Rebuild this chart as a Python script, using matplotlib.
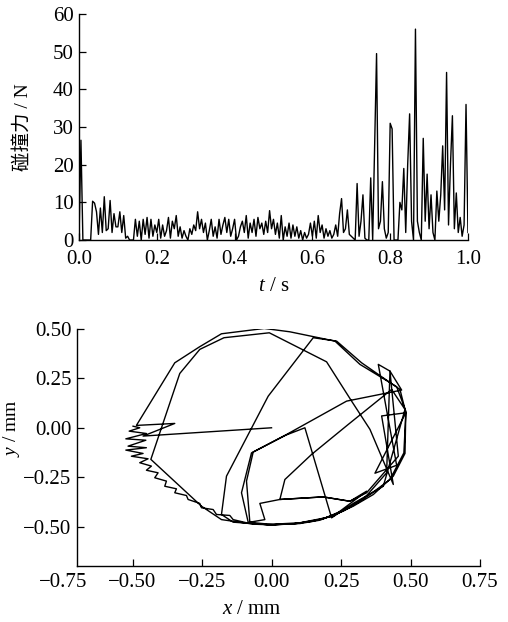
import numpy as np
import matplotlib
matplotlib.use('Agg')
import matplotlib.pyplot as plt

plt.rcParams['font.family'] = ['Liberation Serif', 'Noto Sans CJK SC']
plt.rcParams['mathtext.fontset'] = 'custom'
plt.rcParams['mathtext.rm'] = 'Liberation Serif'
plt.rcParams['mathtext.it'] = 'Liberation Serif:italic'

# collision force, sampled every 0.005 s
dt = 0.005
force = [
    0, 26.5, 0, 0, 0, 0, 0, 10.3, 9.8, 7.5, 1.5, 8.5, 2, 11.5, 2.5, 3, 10.5, 2, 7, 3.5,
    3.5, 7.5, 2, 6.5, 0.5, 1, 0, 0, 0, 5.5, 1, 5, 0, 5.5, 1.5, 6, 0.5, 5.5, 1, 4,
    2, 5.5, 0.5, 4, 1, 2.5, 6, 0.5, 5, 3, 6.5, 1, 3.5, 0.5, 2.5, 1, 0, 3, 1.5, 4,
    2.5, 7.5, 3, 5.5, 2, 4.5, 0, 2.5, 5.5, 1, 3.5, 0.5, 5.5, 1.5, 4, 6, 2, 5.5, 1, 3,
    5.5, 0, 1, 3.5, 5, 2, 6.5, 0.5, 4.5, 2, 5.5, 1, 6, 3, 4.5, 1.5, 5, 2, 7.8, 3,
    5.5, 1.5, 4.5, 0.5, 6.5, 0, 3.5, 1, 4.5, 0.5, 4, 1, 3.5, 0.5, 2.5, 0, 2, 0.5, 1.5, 4.5,
    1, 5, 0.5, 6.5, 2, 4, 0.5, 3, 1, 2.5, 0.5, 1.5, 4, 1, 7, 11, 2, 3, 8, 1.5,
    1, 0.5, 0, 15, 1, 5, 12, 0.5, 0, 0, 16.5, 0, 25, 49.5, 3, 5, 15.5, 3, 0.5, 2,
    31, 29.5, 0, 0, 0, 10, 8, 19, 2, 20, 33.5, 5, 0, 56, 5, 2, 0, 27, 5, 17.5,
    3, 12, 2, 0, 13, 5, 12, 25, 8, 44.5, 4, 20, 33, 3, 12.5, 2, 6, 1, 4, 36, 2,
]
t = np.arange(len(force)) * dt

# trajectory (mm)
traj_x = [
    0.000, -0.462, -0.348, -0.486, -0.348, -0.260, -0.180, -0.026, 0.066, 0.228,
    0.318, 0.450, 0.483, 0.480, 0.438, 0.366, 0.294, 0.222, 0.150, 0.078,
    0.006, -0.066, -0.180, -0.252, -0.434, -0.330, -0.258, -0.171, -0.008, 0.198,
    0.288, 0.354, 0.438, 0.396, 0.483, 0.372, 0.450, 0.384, 0.426, 0.468,
    0.270, 0.054, -0.072, -0.108, -0.084, 0.006, 0.102, 0.174, 0.258, 0.330,
    0.414, 0.426, 0.456, 0.342, 0.282, 0.186, 0.030, 0.048, 0.144, 0.276,
    0.432, 0.480, 0.402, 0.294, 0.216, 0.120, 0.052, -0.066, -0.090, -0.078,
    -0.024, -0.042, 0.030, 0.186, 0.282, 0.342, 0.222, 0.102, -0.018, -0.138,
    -0.180, -0.162, -0.012, 0.150, 0.234, 0.324, 0.462, 0.483, 0.476, 0.426,
    0.354, 0.270, 0.186, 0.090, -0.006, -0.090, -0.138, -0.150, -0.198, -0.210,
    -0.252, -0.258, -0.300, -0.306, -0.348, -0.342, -0.384, -0.378, -0.420, -0.408,
    -0.450, -0.432, -0.474, -0.444, -0.504, -0.462, -0.524, -0.450, -0.516, -0.452,
    -0.524, -0.450, -0.512, -0.474, -0.498,
]
traj_y = [
    0.000, -0.042, 0.022, 0.012, 0.329, 0.409, 0.476, 0.503, 0.486, 0.439,
    0.321, 0.208, 0.084, -0.130, -0.245, -0.338, -0.397, -0.444, -0.473, -0.486,
    -0.492, -0.488, -0.465, -0.397, -0.160, 0.275, 0.397, 0.456, 0.481, 0.334,
    0.135, -0.008, -0.287, 0.060, 0.076, -0.230, -0.190, 0.321, 0.287, 0.191,
    0.135, -0.034, -0.127, -0.329, -0.478, -0.490, -0.485, -0.468, -0.422, -0.363,
    -0.228, 0.287, -0.144, -0.329, -0.372, -0.350, -0.363, -0.262, -0.135, 0.017,
    0.194, 0.093, -0.296, -0.383, -0.456, 0.000, -0.037, -0.123, -0.270, -0.478,
    -0.465, -0.383, -0.363, -0.350, -0.372, -0.321, -0.448, -0.481, -0.490, -0.478,
    -0.439, -0.245, 0.160, 0.456, 0.439, 0.329, 0.194, 0.076, -0.127, -0.262,
    -0.338, -0.410, -0.461, -0.485, -0.492, -0.481, -0.465, -0.444, -0.439, -0.414,
    -0.405, -0.383, -0.363, -0.343, -0.329, -0.309, -0.296, -0.270, -0.253, -0.228,
    -0.215, -0.194, -0.177, -0.157, -0.144, -0.130, -0.113, -0.101, -0.093, -0.063,
    -0.056, -0.029, -0.017, 0.000, 0.008,
]

force_ticks = [0, 10, 20, 30, 40, 50, 60]
t_ticks = [0.0, 0.2, 0.4, 0.6, 0.8, 1.0]
pos_ticks = [-0.75, -0.50, -0.25, 0.00, 0.25, 0.50, 0.75]
y_ticks = [-0.50, -0.25, 0.00, 0.25, 0.50]


def fmt(v, nd):
    return f'{v:.{nd}f}'.replace('-', '\u2212')


fig = plt.figure(figsize=(5.08, 6.22), dpi=100)


def style_axes(ax):
    for side in ['top', 'right']:
        ax.spines[side].set_visible(False)
    for side in ['left', 'bottom']:
        ax.spines[side].set_linewidth(1.0)
    ax.tick_params(direction='in', length=5, width=0.9, labelsize=15)
    ax.tick_params(axis='y', pad=4)


# collision force vs time
ax1 = fig.add_axes([0.1555, 0.6141, 0.7657, 0.3633])
ax1.plot(t, force, color='black', lw=1.0)
ax1.set_xlim(0, 1.0)
ax1.set_ylim(0, 60)
ax1.set_xticks(t_ticks)
ax1.set_xticklabels([fmt(v, 1) for v in t_ticks])
ax1.set_yticks(force_ticks)
style_axes(ax1)
ax1.tick_params(axis='x', pad=7)
ax1.set_xlabel(r'$\it{t}$ / s', fontsize=15, labelpad=6)
ax1.set_ylabel('碰撞力 / N', fontsize=14)
ax1.yaxis.set_label_coords(-0.121, 0.5)

# trajectory
ax2 = fig.add_axes([0.124, 0.090, 0.821, 0.381])
ax2.plot(traj_x, traj_y, color='black', lw=1.0)
ax2.set_xlim(-0.75, 0.75)
ax2.set_ylim(-0.70, 0.50)
ax2.set_xticks(pos_ticks)
ax2.set_xticklabels([fmt(v, 2) for v in pos_ticks])
ax2.set_yticks(y_ticks)
ax2.set_yticklabels([fmt(v, 2) for v in y_ticks])
style_axes(ax2)
ax2.tick_params(axis='x', pad=5)
ax2.spines['left'].set_position(('data', -0.70))
ax2.spines['bottom'].set_bounds(-0.70, 0.75)
ax2.xaxis.get_major_ticks()[0].tick1line.set_visible(False)
ax2.set_xlabel(r'$\it{x}$ / mm', fontsize=15, labelpad=6, x=0.454)
ax2.set_ylabel(r'$\it{y}$ / mm', fontsize=14)
ax2.yaxis.set_label_coords(-0.098, 0.58)

fig.savefig('out.png', dpi=100)
